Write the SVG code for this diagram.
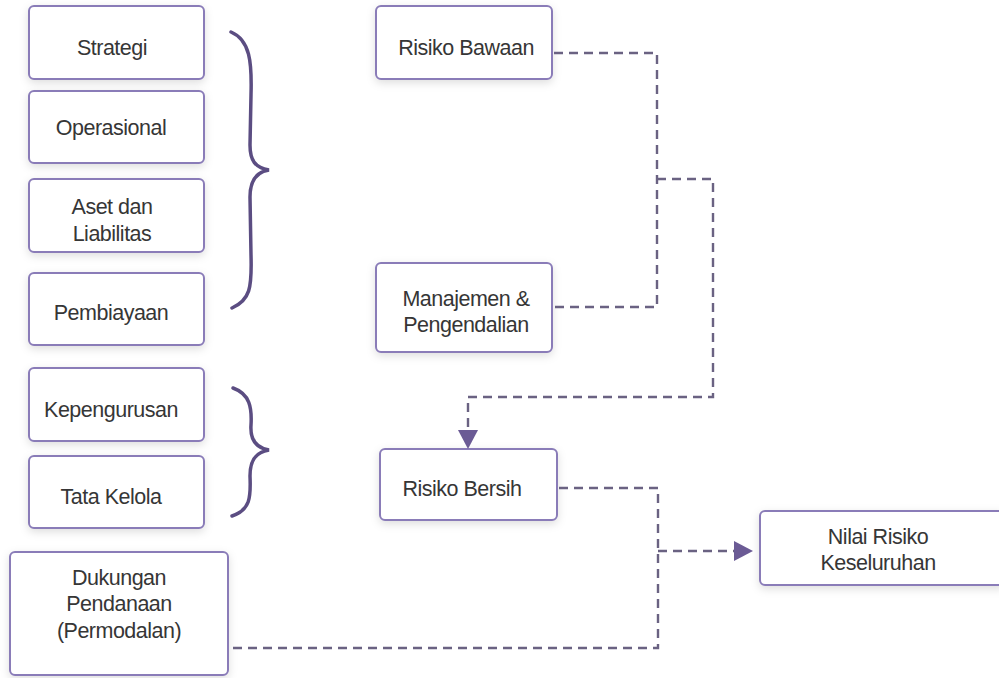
<svg xmlns="http://www.w3.org/2000/svg" width="999" height="678" viewBox="0 0 999 678">
<defs>
<filter id="sh" x="-20%" y="-20%" width="140%" height="150%">
<feDropShadow dx="0" dy="3" stdDeviation="4" flood-color="#000" flood-opacity="0.13"/>
</filter>
<style>
.box{fill:#fff;stroke:#8a7cb8;stroke-width:2;filter:url(#sh)}
.t{font-family:"Liberation Sans","Open Sans",Arial,sans-serif;font-size:21.5px;fill:#363636;text-anchor:middle;letter-spacing:-0.5px}
.d{fill:none;stroke:#6a6282;stroke-width:2.4;stroke-dasharray:9 6}
.br{fill:none;stroke:#5b4d82;stroke-width:3.5;stroke-linecap:round}
.ah{fill:#6b5b95}
</style>
</defs>
<rect width="999" height="678" fill="#fff"/>

<g id="strategi"><rect class="box" x="29" y="6" width="175" height="73" rx="5"/><text class="t" x="112" y="55">Strategi</text></g>
<g id="operasional"><rect class="box" x="29" y="91" width="175" height="72" rx="5"/><text class="t" x="111" y="135">Operasional</text></g>
<g id="aset"><rect class="box" x="29" y="179" width="175" height="73" rx="5"/><text class="t" x="112" y="214">Aset dan</text><text class="t" x="112" y="241">Liabilitas</text></g>
<g id="pembiayaan"><rect class="box" x="29" y="273" width="175" height="72" rx="5"/><text class="t" x="111" y="320">Pembiayaan</text></g>
<g id="kepengurusan"><rect class="box" x="29" y="368" width="175" height="73" rx="5"/><text class="t" x="111" y="417">Kepengurusan</text></g>
<g id="tatakelola"><rect class="box" x="29" y="456" width="175" height="72" rx="5"/><text class="t" x="111" y="504">Tata Kelola</text></g>
<g id="dukungan"><rect class="box" x="10" y="552" width="218" height="123" rx="5"/><text class="t" x="119" y="585">Dukungan</text><text class="t" x="119" y="611">Pendanaan</text><text class="t" x="119" y="638">(Permodalan)</text></g>

<g id="brace1"><path class="br" d="M231,32 C250,40 252,62 251,95 L250,145 C250,160 255,168 269,170 C255,172 250,182 250,197 L251,255 C252,288 250,300 232,308"/></g>
<g id="brace2"><path class="br" d="M233,388 C250,394 252,408 251,425 C250,440 256,448 269,450 C256,452 250,460 250,476 C251,498 250,510 232,516"/></g>

<g id="risikobawaan"><rect class="box" x="376" y="6" width="176" height="73" rx="5"/><text class="t" x="466" y="55">Risiko Bawaan</text></g>
<g id="manajemen"><rect class="box" x="376" y="263" width="176" height="89" rx="5"/><text class="t" x="466" y="306">Manajemen &amp;</text><text class="t" x="466" y="332">Pengendalian</text></g>
<g id="risikobersih"><rect class="box" x="380" y="449" width="177" height="71" rx="5"/><text class="t" x="462" y="496">Risiko Bersih</text></g>
<g id="nilai"><rect class="box" x="760" y="511" width="245" height="74" rx="5"/><text class="t" x="878" y="544">Nilai Risiko</text><text class="t" x="878" y="570">Keseluruhan</text></g>

<g id="connectors">
<path class="d" d="M554,53 H657 V307 H554"/>
<path class="d" d="M657,179 H713 V397 H468 V430"/>
<polygon class="ah" points="458,430 478,430 468,449"/>
<path class="d" d="M559,488 H658 V648 H230"/>
<path class="d" d="M658,551 H736"/>
<polygon class="ah" points="734,541 734,561 753,551"/>
</g>
</svg>
